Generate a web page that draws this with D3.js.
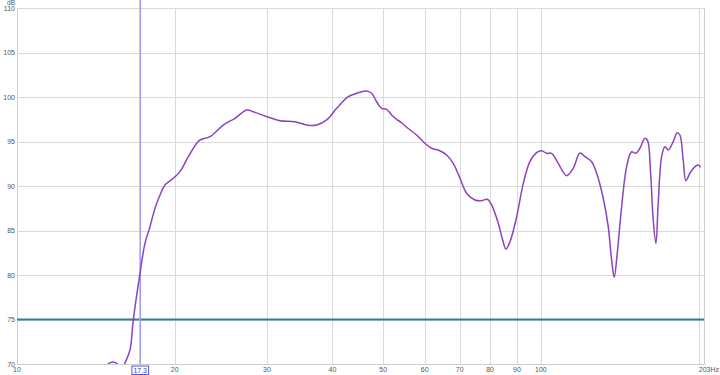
<!DOCTYPE html>
<html>
<head>
<meta charset="utf-8">
<script src="https://cdn.jsdelivr.net/npm/d3@7"></script>
<style>
  html, body { margin: 0; padding: 0; background: #ffffff; }
  svg { display: block; }
  text { font-family: "Liberation Sans", Arial, sans-serif; }
</style>
</head>
<body>
<svg id="chart" width="720" height="375"></svg>
<script>
// Frequency (Hz) of each curve point
const freqs = [14.66, 14.92, 15.25, 15.59, 15.79, 16.07, 16.43, 16.67, 17.17, 17.55, 17.94, 18.34, 18.75, 19.16, 19.88, 20.46, 21.23, 22.03, 22.35, 23.35, 24.76, 26.07, 27.44, 28.25, 29.96, 31.77, 33.92, 35.96, 37.32, 39.00, 40.75, 42.89, 44.50, 46.35, 47.53, 48.58, 49.66, 50.76, 51.89, 53.04, 54.22, 55.43, 57.91, 60.06, 61.85, 63.68, 66.07, 68.02, 70.05, 72.15, 74.83, 77.07, 78.99, 80.53, 82.91, 84.53, 85.77, 87.30, 89.91, 92.55, 95.28, 98.13, 100.31, 102.54, 104.81, 107.90, 111.96, 115.27, 118.72, 121.35, 124.98, 127.76, 131.52, 134.44, 136.46, 138.03, 139.86, 142.59, 145.76, 148.99, 151.83, 154.52, 157.96, 159.84, 161.96, 163.82, 165.78, 167.46, 169.98, 172.47, 174.99, 178.87, 182.04, 184.21, 186.91, 189.15, 192.50, 196.78, 199.65, 201.77];
// SPL (dB) of each curve point
const spl = [69.5, 70.0, 70.22, 69.9, 68.8, 70.08, 71.57, 74.94, 80.19, 83.56, 85.43, 87.49, 88.99, 90.11, 90.87, 91.61, 93.29, 94.80, 95.17, 95.54, 96.85, 97.61, 98.54, 98.35, 97.79, 97.34, 97.22, 96.82, 96.85, 97.42, 98.73, 100.03, 100.42, 100.67, 100.42, 99.47, 98.73, 98.62, 97.98, 97.49, 97.11, 96.60, 95.73, 94.80, 94.24, 94.04, 93.48, 92.55, 90.90, 89.18, 88.43, 88.35, 88.51, 87.87, 85.81, 83.93, 82.92, 83.74, 86.55, 90.30, 92.73, 93.74, 93.97, 93.67, 93.67, 92.55, 91.16, 91.99, 93.70, 93.29, 92.73, 91.43, 88.62, 85.43, 81.69, 79.74, 82.44, 87.67, 92.17, 93.85, 93.67, 94.24, 95.36, 95.09, 91.43, 86.18, 83.56, 88.06, 93.29, 94.42, 94.04, 94.98, 95.99, 95.73, 92.92, 90.60, 91.43, 92.17, 92.36, 92.10];

const xTicks = [10, 20, 30, 40, 50, 60, 70, 80, 90, 100];
const xTickLabels = ["10", "20", "30", "40", "50", "60", "70", "80", "90", "100"];
const xGrid = [20, 30, 40, 50, 60, 70, 80, 90, 100, 200];
const yTicks = [70, 75, 80, 85, 90, 95, 100, 105, 110];
const xMax = 203;
const xMaxLabel = "203Hz";
const yUnit = "dB";
const thresholdDb = 75;
const cursorHz = 17.3;
const cursorLabel = "17.3";

(function () {
const svg = d3.select("#chart");
const pL = 17, pR = 702, pT = 8, pB = 364;

const x = d3.scaleLog().domain([10, xMax]).range([pL, pR]);
const y = d3.scaleLinear().domain([70, 110]).range([pB, pT]);

svg.append("rect").attr("width", 720).attr("height", 375).attr("fill", "#ffffff");

svg.append("defs").append("clipPath").attr("id", "plotclip")
  .append("rect").attr("x", pL).attr("y", pT).attr("width", pR - pL + 2).attr("height", pB - pT);

// horizontal grid
svg.append("g").selectAll("line").data(yTicks).join("line")
  .attr("x1", pL).attr("x2", pR + 2)
  .attr("y1", d => Math.round(y(d)) + 0.5).attr("y2", d => Math.round(y(d)) + 0.5)
  .attr("stroke", "#dadada").attr("stroke-width", 1);

// vertical grid
svg.append("g").selectAll("line").data(xGrid).join("line")
  .attr("x1", d => Math.round(x(d)) + 0.5).attr("x2", d => Math.round(x(d)) + 0.5)
  .attr("y1", pT).attr("y2", pB)
  .attr("stroke", "#dadada").attr("stroke-width", 1);

// borders
svg.append("line").attr("x1", pL + 0.5).attr("x2", pL + 0.5).attr("y1", pT).attr("y2", pB + 1)
  .attr("stroke", "#cfcfcf");
svg.append("line").attr("x1", pR + 2.5).attr("x2", pR + 2.5).attr("y1", pT).attr("y2", pB + 1)
  .attr("stroke", "#cfcfcf");
svg.append("line").attr("x1", pL).attr("x2", pR + 3).attr("y1", pB + 0.5).attr("y2", pB + 0.5)
  .attr("stroke", "#cfcfcf");

// y tick labels
svg.append("g").selectAll("text").data(yTicks).join("text")
  .attr("x", 15).attr("y", d => y(d) + 2.5)
  .attr("text-anchor", "end").attr("font-size", 7).attr("fill", "#555")
  .text(d => d);
svg.append("text").attr("x", 15).attr("y", 5).attr("text-anchor", "end")
  .attr("font-size", 6.5).attr("fill", "#555").text(yUnit);

// x tick labels
svg.append("g").selectAll("text").data(xTicks).join("text")
  .attr("x", d => x(d)).attr("y", 372)
  .attr("text-anchor", "middle").attr("font-size", 7).attr("fill", "#555")
  .text((d, i) => xTickLabels[i]);
svg.append("text").attr("x", 719).attr("y", 372).attr("text-anchor", "end")
  .attr("font-size", 7).attr("fill", "#555").text(xMaxLabel);

// threshold line
svg.append("line").attr("x1", pL).attr("x2", pR + 2)
  .attr("y1", y(thresholdDb)).attr("y2", y(thresholdDb))
  .attr("stroke", "#2e7f9c").attr("stroke-width", 1.8);

// cursor
const cx = x(cursorHz) - 1.5;
svg.append("line").attr("x1", cx).attr("x2", cx).attr("y1", 0).attr("y2", pB)
  .attr("stroke", "#9fa0ec").attr("stroke-width", 1.6);

// curve
const pts = freqs.map((f, i) => [x(f), y(spl[i])]);
const line = d3.line().curve(d3.curveCatmullRom.alpha(0.5));
svg.append("path").attr("d", line(pts))
  .attr("clip-path", "url(#plotclip)")
  .attr("fill", "none").attr("stroke", "#8b43c2").attr("stroke-width", 1.5)
  .attr("stroke-linejoin", "round");

// cursor label box
const lbl = svg.append("g");
const lt = lbl.append("text").attr("x", cx).attr("y", 372.5).attr("text-anchor", "middle")
  .attr("font-size", 7).attr("fill", "#3a3ad0").text(cursorLabel);
const bb = lt.node().getBBox();
lbl.insert("rect", "text").attr("x", bb.x - 1.5).attr("y", 366).attr("width", bb.width + 3).attr("height", 8.5)
  .attr("fill", "#ffffff").attr("stroke", "#5555dd").attr("stroke-width", 1);
})();
</script>
</body>
</html>
